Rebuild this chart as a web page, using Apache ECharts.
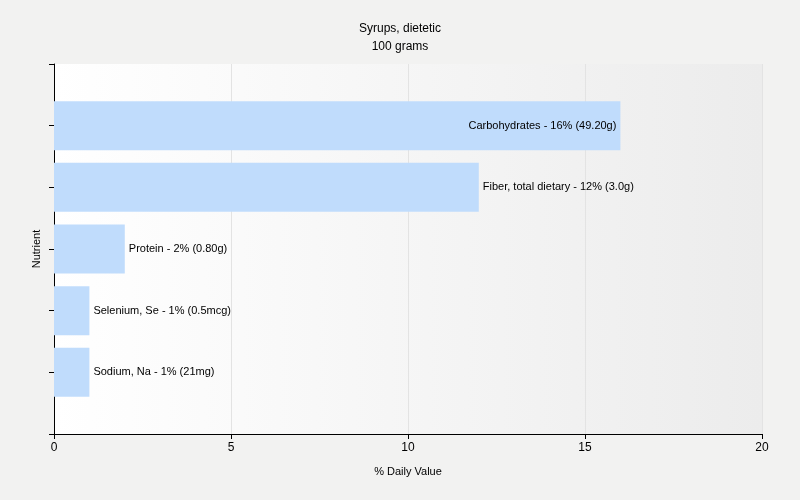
<!DOCTYPE html>
<html><head><meta charset="utf-8">
<script src="https://cdn.jsdelivr.net/npm/echarts@6/dist/echarts.min.js"></script>
<style>body{margin:0;background:#f2f2f1}#c{width:800px;height:500px}</style>
</head><body><div id="c"></div>
<script>
var nutrients = ['Sodium, Na', 'Selenium, Se', 'Protein', 'Fiber, total dietary', 'Carbohydrates'];
var values = [1, 1, 2, 12, 16];
var amounts = ['21mg', '0.5mcg', '0.80g', '3.0g', '49.20g'];

// pad with empty slots at both ends so ticks land at bar centres
var cats = [''].concat(nutrients).concat(['']);
var data = ['-'];
for (var i = 0; i < nutrients.length; i++) {
    data.push({
        value: values[i],
        label: values[i] >= 16 ? { position: 'insideRight' } : { position: 'right' }
    });
}
data.push('-');

var chart = echarts.init(document.getElementById('c'));
chart.setOption({
    backgroundColor: '#f2f2f1',
    title: {
        text: 'Syrups, dietetic\n100 grams',
        left: 'center', top: 15,
        textStyle: { fontSize: 12, fontWeight: 'normal', color: '#000', lineHeight: 18 }
    },
    grid: {
        left: 54, right: 38, top: 64, bottom: 66,
        show: true, borderWidth: 0,
        backgroundColor: new echarts.graphic.LinearGradient(0, 0, 1, 0, [
            { offset: 0, color: '#ffffff' }, { offset: 1, color: '#ececec' }])
    },
    xAxis: {
        type: 'value', min: 0, max: 20, interval: 5,
        name: '% Daily Value', nameLocation: 'middle', nameGap: 32,
        nameTextStyle: { fontSize: 11, color: '#000' },
        axisLine: { show: true, lineStyle: { color: '#000' } },
        axisTick: { show: true, length: 5, lineStyle: { color: '#000' } },
        axisLabel: { fontSize: 12, color: '#000' },
        splitLine: { lineStyle: { color: '#e3e3e3' } }
    },
    yAxis: {
        type: 'category', data: cats, boundaryGap: false,
        name: 'Nutrient', nameLocation: 'middle', nameGap: 12,
        nameTextStyle: { fontSize: 11, color: '#000' },
        axisLine: { show: true, lineStyle: { color: '#000' } },
        axisTick: { show: true, length: 5, interval: 0, lineStyle: { color: '#000' } },
        axisLabel: { show: false },
        splitLine: { show: false }
    },
    series: [{
        type: 'bar',
        barWidth: 49,
        itemStyle: { color: '#c0dcfc' },
        label: {
            show: true, fontSize: 11, color: '#000', distance: 4,
            formatter: function (p) {
                var i = p.dataIndex - 1;
                return nutrients[i] + ' - ' + values[i] + '% (' + amounts[i] + ')';
            }
        },
        data: data
    }]
});
</script></body></html>
